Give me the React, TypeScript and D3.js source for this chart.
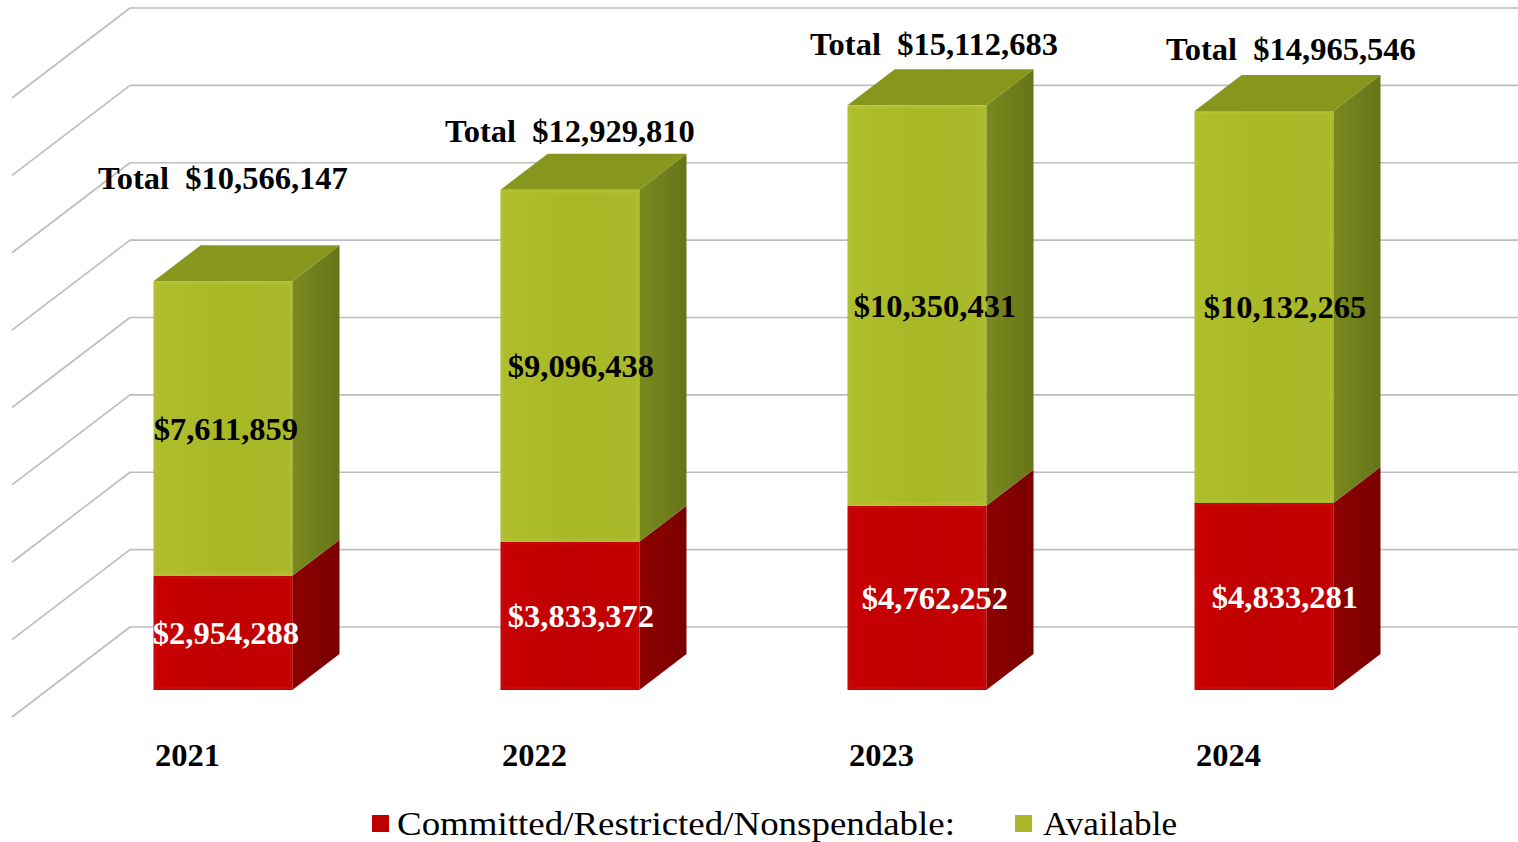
import React from "react";
import * as d3 from "d3";

const years = ["2021", "2022", "2023", "2024"];
const committed = [2954288, 3833372, 4762252, 4833281];
const available = [7611859, 9096438, 10350431, 10132265];
const totals = [10566147, 12929810, 15112683, 14965546];
const gridTicks = [0, 2e6, 4e6, 6e6, 8e6, 10e6, 12e6, 14e6, 16e6];
const seriesNames = ["Committed/Restricted/Nonspendable:", "Available"];

// layout constants (not data)
const totalLift = [56, 12, 14, 15];
const totalShift = [0, 0, 17, 27];
const valueShift = [3, 11, 18, 21];

const W = 1518;
const H = 842;
const DX = -118; // full depth offset
const DY = 90;
const Z_BACK = 0.3;
const Z_FRONT = 0.7;

const fmt = (v: number) => "$" + d3.format(",")(v);

const FONT = "'Palatino Linotype', 'Book Antiqua', Palatino, 'Liberation Serif', serif";

export default function App() {
  const x = d3.scaleBand<string>().domain(years).range([132, 1520]).paddingInner(0.6).paddingOuter(0.3);
  const y = d3.scaleLinear().domain([0, 16e6]).range([627, 8]);
  const P = (xb: number, v: number, z: number): [number, number] => [xb + DX * z, y(v) + DY * z];
  const pts = (arr: [number, number][]) => arr.map((p) => p.join(",")).join(" ");

  const bars = years.map((yr, i) => {
    const x0 = x(yr)!;
    const x1 = x0 + x.bandwidth();
    const segs = [
      { lo: 0, hi: committed[i], top: "#9a0000", key: "c" },
      { lo: committed[i], hi: committed[i] + available[i], top: "#87971E", key: "a" },
    ];
    return (
      <g key={yr}>
        {segs.map((s, j) => {
          const fbl = P(x0, s.lo, Z_FRONT);
          const fbr = P(x1, s.lo, Z_FRONT);
          const ftl = P(x0, s.hi, Z_FRONT);
          const ftr = P(x1, s.hi, Z_FRONT);
          const bbr = P(x1, s.lo, Z_BACK);
          const btr = P(x1, s.hi, Z_BACK);
          const btl = P(x0, s.hi, Z_BACK);
          return (
            <g key={s.key}>
              <polygon points={pts([fbr, bbr, btr, ftr])} fill={`url(#side${s.key})`} />
              {j === segs.length - 1 && <polygon points={pts([ftl, ftr, btr, btl])} fill={s.top} />}
              <rect x={fbl[0]} y={ftl[1]} width={fbr[0] - fbl[0]} height={fbl[1] - ftl[1]} fill={`url(#front${s.key})`} />
              <rect x={fbl[0] + 2} y={ftl[1] + 2} width={fbr[0] - fbl[0] - 4} height={fbl[1] - ftl[1] - 4} fill="none" stroke={s.key === "a" ? "#B6C43A" : "#CC1010"} strokeWidth={2} opacity={0.6} />
            </g>
          );
        })}
      </g>
    );
  });

  const labels = years.map((yr, i) => {
    const xc = x(yr)! + x.bandwidth() / 2;
    const cf = xc + DX * Z_FRONT;
    const cRed = (y(0) + y(committed[i])) / 2 + DY * Z_FRONT;
    const cGreen = (y(committed[i]) + y(totals[i])) / 2 + DY * Z_FRONT;
    const topBack = y(totals[i]) + DY * Z_BACK;
    return (
      <g key={"l" + yr} fontFamily={FONT} fontWeight="bold" fontSize={32.5} textAnchor="middle">
        <text x={cf + valueShift[i]} y={cRed} dy="0.35em" fill="#fff">{fmt(committed[i])}</text>
        <text x={cf + valueShift[i]} y={cGreen} dy="0.35em" fill="#000">{fmt(available[i])}</text>
        <text x={cf + totalShift[i]} y={topBack - totalLift[i]} fill="#000" style={{ whiteSpace: "pre" }}>
          {"Total  " + fmt(totals[i])}
        </text>
        <text x={xc + DX} y={766} fill="#000">{yr}</text>
      </g>
    );
  });

  return (
    <svg width={W} height={H} style={{ position: "absolute", left: 0, top: 0 }}>
      <defs>
        <linearGradient id="frontc" x1="0" x2="1" y1="0" y2="0">
          <stop offset="0" stopColor="#C80000" />
          <stop offset="0.5" stopColor="#C00000" />
          <stop offset="1" stopColor="#C40000" />
        </linearGradient>
        <linearGradient id="fronta" x1="0" x2="1" y1="0" y2="0">
          <stop offset="0" stopColor="#AEBE2C" />
          <stop offset="0.5" stopColor="#A8B826" />
          <stop offset="1" stopColor="#AAB92A" />
        </linearGradient>
        <linearGradient id="sidec" x1="0" x2="1" y1="0" y2="0">
          <stop offset="0" stopColor="#8E0000" />
          <stop offset="1" stopColor="#7A0000" />
        </linearGradient>
        <linearGradient id="sidea" x1="0" x2="1" y1="0" y2="0">
          <stop offset="0" stopColor="#7A8A1E" />
          <stop offset="1" stopColor="#667518" />
        </linearGradient>
      </defs>
      <rect width={W} height={H} fill="#fff" />
      <g stroke="#BDBDBD" strokeWidth={1.6} fill="none">
        {gridTicks.map((t) => {
          const [bx, by] = P(130, t, 0);
          const [fx, fy] = P(130, t, 1);
          return (
            <g key={t}>
              <line x1={bx} y1={by} x2={W} y2={by} />
              <line x1={bx} y1={by} x2={fx} y2={fy} />
            </g>
          );
        })}
      </g>
      {bars}
      {labels}
      <g fontFamily={FONT} fontSize={34} fill="#000">
        <rect x={372} y={815} width={17} height={17} fill="#C00000" />
        <text x={397} y={835} textLength={558} lengthAdjust="spacingAndGlyphs">{seriesNames[0]}</text>
        <rect x={1015} y={815} width={17} height={17} fill="#A9B928" />
        <text x={1043} y={835} textLength={134} lengthAdjust="spacingAndGlyphs">{seriesNames[1]}</text>
      </g>
    </svg>
  );
}
